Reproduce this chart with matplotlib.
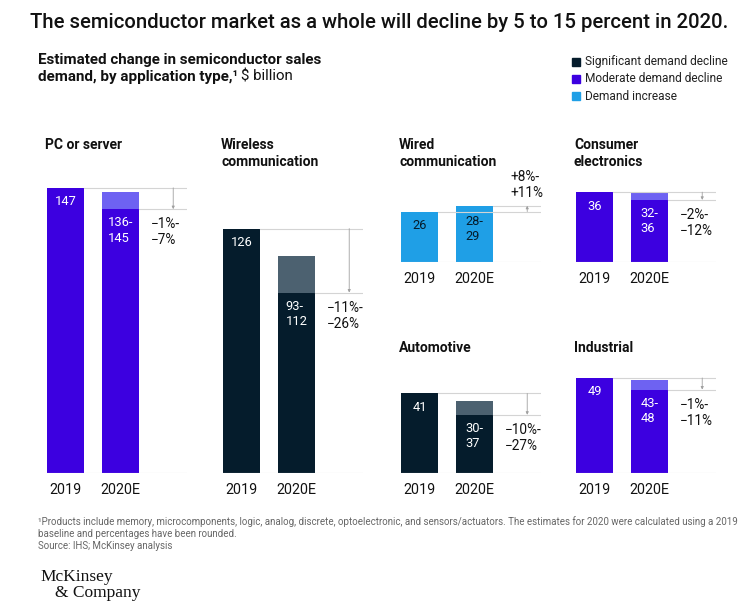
import matplotlib
matplotlib.use('Agg')
import matplotlib.pyplot as plt
from matplotlib.patches import Rectangle
from matplotlib import font_manager

# data, $ billion
panels = ["PC or server", "Wireless\ncommunication", "Wired\ncommunication",
          "Consumer\nelectronics", "Automotive", "Industrial"]
val_2019 = [147, 126, 26, 36, 41, 49]
low_2020 = [136, 93, 28, 32, 30, 43]
high_2020 = [145, 112, 29, 36, 37, 48]
pct_labels = ["\u22121%-\n\u22127%", "\u221211%-\n\u221226%", "+8%-\n+11%",
              "\u22122%-\n\u221212%", "\u221210%-\n\u221227%", "\u22121%-\n\u221211%"]
demand = ["moderate", "significant", "increase", "moderate", "significant", "moderate"]
years = ["2019", "2020E"]

legend_labels = ["Significant demand decline", "Moderate demand decline", "Demand increase"]

# colours: (bar, lighter range part, text on bar)
colors = {
    "significant": ("#051c2c", "#4c6170", "white"),
    "moderate": ("#3c00e0", "#6e62f2", "white"),
    "increase": ("#1f9fe6", "#1f9fe6", "#051c2c"),
}

fams = set(f.name for f in font_manager.fontManager.ttflist)
sans = "Roboto" if "Roboto" in fams else "DejaVu Sans"
plt.rcParams['font.family'] = [sans, 'DejaVu Sans']

W, H = 756, 614
fig = plt.figure(figsize=(W / 100, H / 100), dpi=100)

def fx(px):
    return px / W

def fy(py):
    return 1 - py / H

dark_txt = "#111111"
grey_line = "#d4d4d4"

# title and subtitle
fig.text(fx(30), fy(22), "The semiconductor market as a whole will decline by 5 to 15 percent in 2020.",
         fontsize=14.6, fontweight='medium', color=dark_txt, va='center')
fig.text(fx(38), fy(60), "Estimated change in semiconductor sales",
         fontsize=10.9, fontweight='bold', color=dark_txt, va='center')
sub2 = fig.text(fx(38), fy(77), "demand, by application type,\u00b9",
                fontsize=10.9, fontweight='bold', color=dark_txt, va='center')
fig.canvas.draw()
r = fig.canvas.get_renderer()
bb = sub2.get_window_extent(r)
fig.text(bb.x1 / W + fx(3), fy(77), "$ billion", fontsize=10.9, color=dark_txt, va='center')

# legend
for i, key in enumerate(["significant", "moderate", "increase"]):
    yc = 62 + i * 17
    fig.add_artist(Rectangle((fx(572), fy(yc + 4)), fx(8), 8 / H,
                             transform=fig.transFigure, color=colors[key][0]))
    fig.text(fx(585), fy(yc), legend_labels[i], fontsize=8.6, color="#222222", va='center')

# panels
BAR_W = 0.67
UNIT = 55.0        # px between bar centres
PX_PER_B = 1.94    # px per $ billion
lefts = [47, 223, 401, 576, 401, 576]
bases = [473, 473, 262, 262, 473, 473]
heights = [300, 300, 90, 90, 110, 110]
title_y = [138, 138, 138, 138, 341, 341]

x0 = -0.34
x1 = x0 + 140 / UNIT
arrow_x = 1.955

for i in range(6):
    ax = fig.add_axes([fx(lefts[i]), fy(bases[i]), fx(140), heights[i] / H])
    ax.set_xlim(x0, x1)
    ax.set_ylim(0, heights[i] / PX_PER_B)
    for s in ax.spines.values():
        s.set_visible(False)
    ax.set_yticks([])
    ax.set_xticks([0, 1], years)
    ax.tick_params(axis='x', length=0, pad=7, labelsize=10.3, labelcolor=dark_txt)

    bar_c, light_c, txt_c = colors[demand[i]]
    v, lo, hi = val_2019[i], low_2020[i], high_2020[i]
    ax.bar(0, v, width=BAR_W, color=bar_c)
    ax.bar(1, lo, width=BAR_W, color=bar_c)
    ax.bar(1, hi - lo, bottom=lo, width=BAR_W, color=light_c)

    ax.axhline(0, color=grey_line, lw=0.8)
    end = hi if demand[i] == "increase" else lo
    ax.plot([BAR_W / 2, x1], [v, v], color=grey_line, lw=0.8)
    ax.plot([1 + BAR_W / 2, x1], [end, end], color=grey_line, lw=0.8)
    ax.annotate('', xy=(arrow_x, end), xytext=(arrow_x, v),
                arrowprops=dict(arrowstyle='-|>', color='#a0a0a0', lw=0.6,
                                mutation_scale=4, shrinkA=0, shrinkB=0))

    ax.text(0, v - 14 / PX_PER_B, str(v), ha='center', va='center',
            fontsize=9.3, color=txt_c)
    ax.text(1, lo - 7 / PX_PER_B, f"{lo}-\n{hi}", ha='center', va='top',
            multialignment='left', fontsize=9.3, color=txt_c, linespacing=1.25)
    if demand[i] == "increase":
        ax.text(1 + BAR_W / 2 + 0.32, hi + 6 / PX_PER_B, pct_labels[i], ha='left',
                va='bottom', fontsize=9.8, color=dark_txt, linespacing=1.2)
    else:
        ax.text(1 + BAR_W / 2 + 0.22, lo - 8 / PX_PER_B, pct_labels[i], ha='left',
                va='top', fontsize=9.8, color=dark_txt, linespacing=1.2)

    fig.text(fx(lefts[i] - 2), fy(title_y[i]), panels[i], fontsize=10,
             fontweight='bold', color=dark_txt, va='top', linespacing=1.25)

# footnote
fig.text(fx(38), fy(522), "\u00b9Products include memory, microcomponents, logic, analog, discrete, "
         "optoelectronic, and sensors/actuators. The estimates for 2020 were calculated using a 2019",
         fontsize=7.0, color="#666666", va='center')
fig.text(fx(38), fy(534), "baseline and percentages have been rounded.",
         fontsize=7.0, color="#666666", va='center')
fig.text(fx(38), fy(546), "Source: IHS; McKinsey analysis",
         fontsize=7.0, color="#666666", va='center')

# logo
fig.text(fx(40), fy(581), "McKinsey", family="Liberation Serif", fontsize=12.5,
         color=dark_txt, va='baseline')
fig.text(fx(55), fy(597), "& Company", family="Liberation Serif", fontsize=12.5,
         color=dark_txt, va='baseline')

fig.savefig("out.png", dpi=100)
